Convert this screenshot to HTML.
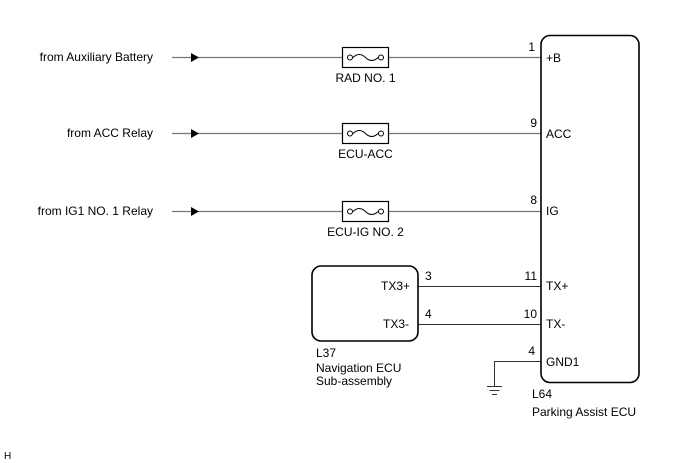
<!DOCTYPE html>
<html><head><style>
html,body{margin:0;padding:0;background:#fff;}
svg{display:block;}
text{font-family:"Liberation Sans",Arial,sans-serif;font-size:12px;fill:#000;}
</style></head><body>
<svg width="688" height="463" viewBox="0 0 688 463" xmlns="http://www.w3.org/2000/svg">
<g stroke="#777" stroke-width="1.2" fill="none">
<line x1="172" y1="57.5" x2="541" y2="57.5"/>
<line x1="172" y1="133.5" x2="541" y2="133.5"/>
<line x1="172" y1="211.5" x2="541" y2="211.5"/>
</g>
<g stroke="#333" stroke-width="1" fill="none">
<line x1="418" y1="286.5" x2="541" y2="286.5"/>
<line x1="418" y1="324.5" x2="541" y2="324.5"/>
<polyline points="541,361.5 494.5,361.5 494.5,386"/>
<line x1="487" y1="386.5" x2="502" y2="386.5"/>
<line x1="489.5" y1="390.5" x2="499.5" y2="390.5"/>
<line x1="492" y1="394.5" x2="497" y2="394.5"/>
</g>
<g fill="#000">
<polygon points="191,53 199,57.5 191,62"/>
<polygon points="191,129 199,133.5 191,138"/>
<polygon points="191,207 199,211.5 191,216"/>
</g>
<g stroke="#000" stroke-width="1.2" fill="#fff">
<rect x="342.5" y="47.5" width="46" height="20"/>
<rect x="342.5" y="123.5" width="46" height="20"/>
<rect x="342.5" y="201.5" width="46" height="20"/>
</g>
<g stroke="#000" stroke-width="1" fill="none">
<circle cx="350" cy="57.5" r="2.5"/><circle cx="381" cy="57.5" r="2.5"/>
<path d="M353,57.5 q6.25,-6 12.5,0 q6.25,6 12.5,0"/>
<circle cx="350" cy="133.5" r="2.5"/><circle cx="381" cy="133.5" r="2.5"/>
<path d="M353,133.5 q6.25,-6 12.5,0 q6.25,6 12.5,0"/>
<circle cx="350" cy="211.5" r="2.5"/><circle cx="381" cy="211.5" r="2.5"/>
<path d="M353,211.5 q6.25,-6 12.5,0 q6.25,6 12.5,0"/>
</g>
<g stroke="#000" stroke-width="1.6" fill="none">
<rect x="541" y="35.5" width="98" height="347" rx="9"/>
<rect x="312" y="266" width="106" height="75" rx="9"/>
</g>
<g text-anchor="end">
<text x="153" y="61">from Auxiliary Battery</text>
<text x="153" y="137">from ACC Relay</text>
<text x="153" y="215">from IG1 NO. 1 Relay</text>
</g>
<text x="365.5" y="82" text-anchor="middle">RAD NO. 1</text>
<text x="365.5" y="158" text-anchor="middle">ECU-ACC</text>
<text x="365.5" y="236" text-anchor="middle">ECU-IG NO. 2</text>
<g text-anchor="end">
<text x="535" y="51">1</text>
<text x="537" y="127">9</text>
<text x="537" y="204">8</text>
<text x="537" y="280">11</text>
<text x="537" y="318">10</text>
<text x="535" y="355">4</text>
<text x="410" y="290">TX3+</text>
<text x="409" y="328">TX3-</text>
</g>
<text x="425" y="280">3</text>
<text x="425" y="318">4</text>
<text x="546" y="62">+B</text>
<text x="546" y="138">ACC</text>
<text x="546" y="215">IG</text>
<text x="546" y="290">TX+</text>
<text x="546" y="328">TX-</text>
<text x="546" y="366">GND1</text>
<text x="316" y="357">L37</text>
<text x="316" y="372">Navigation ECU</text>
<text x="316" y="385">Sub-assembly</text>
<text x="532" y="398">L64</text>
<text x="532" y="416">Parking Assist ECU</text>
<text x="4" y="459" style="font-size:10px">H</text>
</svg>
</body></html>
